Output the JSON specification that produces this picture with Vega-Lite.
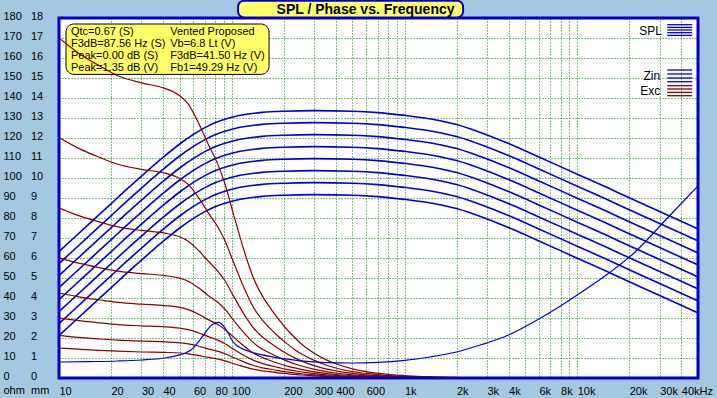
{
  "$schema": "https://vega.github.io/schema/vega-lite/v6.json",
  "width": 639,
  "height": 360,
  "autosize": {"type": "none"},
  "padding": {"left": 59, "top": 18, "right": 19, "bottom": 20},
  "background": "#a4c8e0",
  "config": {
    "view": {"fill": "#ffffff", "stroke": null},
    "font": "Liberation Sans",
    "axis": {"labelFont": "Liberation Sans", "labelFontSize": 11, "labelColor": "#000000", "domain": false, "ticks": false, "tickSize": 0, "labelOverlap": false, "labelFlush": false, "labelBound": false, "gridColor": "#008000", "gridDash": [1, 2], "gridWidth": 1, "gridOpacity": 1}
  },
  "datasets": {
    "infobox": [{"f": 10.98, "f2": 164.4, "v": 177, "v2": 151.8}],
    "frame": [{"f": 10, "f2": 50000, "v": 0, "v2": 180}],
    "titlebox": [{"f": 108.8, "f2": 2184, "v": 188.6, "v2": 180.3}],
    "titletext": [{"f": 595, "v": 184.2, "t": "SPL / Phase vs. Frequency"}],
    "info": [
      {"f": 11.73, "v": 173, "t": "Qtc=0.67 (S)"},
      {"f": 11.73, "v": 166.95, "t": "F3dB=87.56 Hz (S)"},
      {"f": 11.73, "v": 160.9, "t": "Peak=0.00 dB (S)"},
      {"f": 11.73, "v": 154.85, "t": "Peak=1.35 dB (V)"},
      {"f": 44.05, "v": 173, "t": "Vented Proposed"},
      {"f": 44.05, "v": 166.95, "t": "Vb=6.8 Lt (V)"},
      {"f": 44.05, "v": 160.9, "t": "F3dB=41.50 Hz (V)"},
      {"f": 44.05, "v": 154.85, "t": "Fb1=49.29 Hz (V)"}
    ],
    "legtext": [
      {"f": 30900, "v": 173.3, "t": "SPL"},
      {"f": 30200, "v": 150.8, "t": "Zin"},
      {"f": 30200, "v": 143.5, "t": "Exc"}
    ],
    "leglines": [
      {"f": 33170, "f2": 46290, "v": 176.65, "c": "b"},
      {"f": 33170, "f2": 46290, "v": 175.3, "c": "b"},
      {"f": 33170, "f2": 46290, "v": 174, "c": "b"},
      {"f": 33170, "f2": 46290, "v": 172.65, "c": "b"},
      {"f": 33170, "f2": 46290, "v": 171.3, "c": "b"},
      {"f": 33170, "f2": 46290, "v": 154, "c": "b"},
      {"f": 33170, "f2": 46290, "v": 152, "c": "b"},
      {"f": 33170, "f2": 46290, "v": 150, "c": "b"},
      {"f": 33170, "f2": 46290, "v": 148.15, "c": "b"},
      {"f": 33170, "f2": 46290, "v": 146.15, "c": "r"},
      {"f": 33170, "f2": 46290, "v": 144.5, "c": "r"},
      {"f": 33170, "f2": 46290, "v": 142.8, "c": "r"},
      {"f": 33170, "f2": 46290, "v": 141.15, "c": "r"}
    ],
    "xmax": [{"v": 89.5}],
    "zin": [
      {"f": 10, "v": 8.0}, {"f": 15, "v": 8.2}, {"f": 22, "v": 8.5}, {"f": 30, "v": 9.0}, {"f": 41, "v": 10.0}, {"f": 48, "v": 11.2}, {"f": 54, "v": 12.5}, {"f": 58, "v": 14}, {"f": 61, "v": 15.8}, {"f": 66, "v": 19.5}, {"f": 70, "v": 22.5}, {"f": 74, "v": 25.2}, {"f": 78, "v": 27}, {"f": 84, "v": 27.8}, {"f": 90, "v": 25.8}, {"f": 96, "v": 22}, {"f": 102, "v": 18}, {"f": 108, "v": 16}, {"f": 114, "v": 14.8}, {"f": 125, "v": 13.4}, {"f": 136, "v": 12.4}, {"f": 171, "v": 10.6}, {"f": 212, "v": 9.4}, {"f": 260, "v": 8.4}, {"f": 350, "v": 7.7}, {"f": 500, "v": 7.5}, {"f": 700, "v": 7.8}, {"f": 1000, "v": 8.8}, {"f": 1400, "v": 10.5}, {"f": 2000, "v": 13}, {"f": 2770, "v": 16.6}, {"f": 4000, "v": 21.5}, {"f": 6000, "v": 29.5}, {"f": 8000, "v": 36}, {"f": 10000, "v": 41.5}, {"f": 15000, "v": 52}, {"f": 21300, "v": 62.5}, {"f": 33300, "v": 80}, {"f": 50000, "v": 96}
    ],
    "spl": [
      {"c":0,"f":10,"v":63.2},{"c":0,"f":12,"v":69.5},{"c":0,"f":15,"v":77.2},{"c":0,"f":20,"v":87.1},{"c":0,"f":25,"v":94.8},{"c":0,"f":30,"v":100.9},{"c":0,"f":40,"v":110.3},{"c":0,"f":50,"v":117},{"c":0,"f":60,"v":121.8},{"c":0,"f":70,"v":125.2},{"c":0,"f":80,"v":127.6},{"c":0,"f":100,"v":130.4},{"c":0,"f":125,"v":132},{"c":0,"f":150,"v":132.8},{"c":0,"f":200,"v":133.4},{"c":0,"f":300,"v":133.7},{"c":0,"f":500,"v":133.4},{"c":0,"f":700,"v":132.7},{"c":0,"f":1000,"v":131.3},{"c":0,"f":1500,"v":129.1},{"c":0,"f":2000,"v":126.7},{"c":0,"f":3000,"v":121.5},{"c":0,"f":4000,"v":117.2},{"c":0,"f":6000,"v":110.5},{"c":0,"f":10000,"v":101.9},{"c":0,"f":15000,"v":95.1},{"c":0,"f":20000,"v":90.1},{"c":0,"f":30000,"v":83.2},{"c":0,"f":50000,"v":74.5},
      {"c":1,"f":10,"v":57.2},{"c":1,"f":12,"v":63.5},{"c":1,"f":15,"v":71.2},{"c":1,"f":20,"v":81.1},{"c":1,"f":25,"v":88.8},{"c":1,"f":30,"v":94.9},{"c":1,"f":40,"v":104.3},{"c":1,"f":50,"v":111},{"c":1,"f":60,"v":115.8},{"c":1,"f":70,"v":119.2},{"c":1,"f":80,"v":121.6},{"c":1,"f":100,"v":124.4},{"c":1,"f":125,"v":126},{"c":1,"f":150,"v":126.8},{"c":1,"f":200,"v":127.4},{"c":1,"f":300,"v":127.7},{"c":1,"f":500,"v":127.4},{"c":1,"f":700,"v":126.7},{"c":1,"f":1000,"v":125.3},{"c":1,"f":1500,"v":123.1},{"c":1,"f":2000,"v":120.7},{"c":1,"f":3000,"v":115.5},{"c":1,"f":4000,"v":111.2},{"c":1,"f":6000,"v":104.5},{"c":1,"f":10000,"v":95.9},{"c":1,"f":15000,"v":89.1},{"c":1,"f":20000,"v":84.1},{"c":1,"f":30000,"v":77.2},{"c":1,"f":50000,"v":68.5},
      {"c":2,"f":10,"v":51.2},{"c":2,"f":12,"v":57.5},{"c":2,"f":15,"v":65.2},{"c":2,"f":20,"v":75.1},{"c":2,"f":25,"v":82.8},{"c":2,"f":30,"v":88.9},{"c":2,"f":40,"v":98.3},{"c":2,"f":50,"v":105},{"c":2,"f":60,"v":109.8},{"c":2,"f":70,"v":113.2},{"c":2,"f":80,"v":115.6},{"c":2,"f":100,"v":118.4},{"c":2,"f":125,"v":120},{"c":2,"f":150,"v":120.8},{"c":2,"f":200,"v":121.4},{"c":2,"f":300,"v":121.7},{"c":2,"f":500,"v":121.4},{"c":2,"f":700,"v":120.7},{"c":2,"f":1000,"v":119.3},{"c":2,"f":1500,"v":117.1},{"c":2,"f":2000,"v":114.7},{"c":2,"f":3000,"v":109.5},{"c":2,"f":4000,"v":105.2},{"c":2,"f":6000,"v":98.5},{"c":2,"f":10000,"v":89.9},{"c":2,"f":15000,"v":83.1},{"c":2,"f":20000,"v":78.1},{"c":2,"f":30000,"v":71.2},{"c":2,"f":50000,"v":62.5},
      {"c":3,"f":10,"v":45.2},{"c":3,"f":12,"v":51.5},{"c":3,"f":15,"v":59.2},{"c":3,"f":20,"v":69.1},{"c":3,"f":25,"v":76.8},{"c":3,"f":30,"v":82.9},{"c":3,"f":40,"v":92.3},{"c":3,"f":50,"v":99},{"c":3,"f":60,"v":103.8},{"c":3,"f":70,"v":107.2},{"c":3,"f":80,"v":109.6},{"c":3,"f":100,"v":112.4},{"c":3,"f":125,"v":114},{"c":3,"f":150,"v":114.8},{"c":3,"f":200,"v":115.4},{"c":3,"f":300,"v":115.7},{"c":3,"f":500,"v":115.4},{"c":3,"f":700,"v":114.7},{"c":3,"f":1000,"v":113.3},{"c":3,"f":1500,"v":111.1},{"c":3,"f":2000,"v":108.7},{"c":3,"f":3000,"v":103.5},{"c":3,"f":4000,"v":99.2},{"c":3,"f":6000,"v":92.5},{"c":3,"f":10000,"v":83.9},{"c":3,"f":15000,"v":77.1},{"c":3,"f":20000,"v":72.1},{"c":3,"f":30000,"v":65.2},{"c":3,"f":50000,"v":56.5},
      {"c":4,"f":10,"v":39.2},{"c":4,"f":12,"v":45.5},{"c":4,"f":15,"v":53.2},{"c":4,"f":20,"v":63.1},{"c":4,"f":25,"v":70.8},{"c":4,"f":30,"v":76.9},{"c":4,"f":40,"v":86.3},{"c":4,"f":50,"v":93},{"c":4,"f":60,"v":97.8},{"c":4,"f":70,"v":101.2},{"c":4,"f":80,"v":103.6},{"c":4,"f":100,"v":106.4},{"c":4,"f":125,"v":108},{"c":4,"f":150,"v":108.8},{"c":4,"f":200,"v":109.4},{"c":4,"f":300,"v":109.7},{"c":4,"f":500,"v":109.4},{"c":4,"f":700,"v":108.7},{"c":4,"f":1000,"v":107.3},{"c":4,"f":1500,"v":105.1},{"c":4,"f":2000,"v":102.7},{"c":4,"f":3000,"v":97.5},{"c":4,"f":4000,"v":93.2},{"c":4,"f":6000,"v":86.5},{"c":4,"f":10000,"v":77.9},{"c":4,"f":15000,"v":71.1},{"c":4,"f":20000,"v":66.1},{"c":4,"f":30000,"v":59.2},{"c":4,"f":50000,"v":50.5},
      {"c":5,"f":10,"v":33.2},{"c":5,"f":12,"v":39.5},{"c":5,"f":15,"v":47.2},{"c":5,"f":20,"v":57.1},{"c":5,"f":25,"v":64.8},{"c":5,"f":30,"v":70.9},{"c":5,"f":40,"v":80.3},{"c":5,"f":50,"v":87},{"c":5,"f":60,"v":91.8},{"c":5,"f":70,"v":95.2},{"c":5,"f":80,"v":97.6},{"c":5,"f":100,"v":100.4},{"c":5,"f":125,"v":102},{"c":5,"f":150,"v":102.8},{"c":5,"f":200,"v":103.4},{"c":5,"f":300,"v":103.7},{"c":5,"f":500,"v":103.4},{"c":5,"f":700,"v":102.7},{"c":5,"f":1000,"v":101.3},{"c":5,"f":1500,"v":99.1},{"c":5,"f":2000,"v":96.7},{"c":5,"f":3000,"v":91.5},{"c":5,"f":4000,"v":87.2},{"c":5,"f":6000,"v":80.5},{"c":5,"f":10000,"v":71.9},{"c":5,"f":15000,"v":65.1},{"c":5,"f":20000,"v":60.1},{"c":5,"f":30000,"v":53.2},{"c":5,"f":50000,"v":44.5},
      {"c":6,"f":10,"v":27.2},{"c":6,"f":12,"v":33.5},{"c":6,"f":15,"v":41.2},{"c":6,"f":20,"v":51.1},{"c":6,"f":25,"v":58.8},{"c":6,"f":30,"v":64.9},{"c":6,"f":40,"v":74.3},{"c":6,"f":50,"v":81},{"c":6,"f":60,"v":85.8},{"c":6,"f":70,"v":89.2},{"c":6,"f":80,"v":91.6},{"c":6,"f":100,"v":94.4},{"c":6,"f":125,"v":96},{"c":6,"f":150,"v":96.8},{"c":6,"f":200,"v":97.4},{"c":6,"f":300,"v":97.7},{"c":6,"f":500,"v":97.4},{"c":6,"f":700,"v":96.7},{"c":6,"f":1000,"v":95.3},{"c":6,"f":1500,"v":93.1},{"c":6,"f":2000,"v":90.7},{"c":6,"f":3000,"v":85.5},{"c":6,"f":4000,"v":81.2},{"c":6,"f":6000,"v":74.5},{"c":6,"f":10000,"v":65.9},{"c":6,"f":15000,"v":59.1},{"c":6,"f":20000,"v":54.1},{"c":6,"f":30000,"v":47.2},{"c":6,"f":50000,"v":38.5},
      {"c":7,"f":10,"v":21.2},{"c":7,"f":12,"v":27.5},{"c":7,"f":15,"v":35.2},{"c":7,"f":20,"v":45.1},{"c":7,"f":25,"v":52.8},{"c":7,"f":30,"v":58.9},{"c":7,"f":40,"v":68.3},{"c":7,"f":50,"v":75},{"c":7,"f":60,"v":79.8},{"c":7,"f":70,"v":83.2},{"c":7,"f":80,"v":85.6},{"c":7,"f":100,"v":88.4},{"c":7,"f":125,"v":90},{"c":7,"f":150,"v":90.8},{"c":7,"f":200,"v":91.4},{"c":7,"f":300,"v":91.7},{"c":7,"f":500,"v":91.4},{"c":7,"f":700,"v":90.7},{"c":7,"f":1000,"v":89.3},{"c":7,"f":1500,"v":87.1},{"c":7,"f":2000,"v":84.7},{"c":7,"f":3000,"v":79.5},{"c":7,"f":4000,"v":75.2},{"c":7,"f":6000,"v":68.5},{"c":7,"f":10000,"v":59.9},{"c":7,"f":15000,"v":53.1},{"c":7,"f":20000,"v":48.1},{"c":7,"f":30000,"v":41.2},{"c":7,"f":50000,"v":32.5}
    ],
    "exc": [
      {"c":"A","f":10,"v":170},{"c":"A","f":13,"v":162.4},{"c":"A","f":17.3,"v":155.9},{"c":"A","f":21.9,"v":151.1},{"c":"A","f":30,"v":147.6},{"c":"A","f":41,"v":144.8},{"c":"A","f":50,"v":141.1},{"c":"A","f":56,"v":136.9},{"c":"A","f":64,"v":127.8},{"c":"A","f":73,"v":117},{"c":"A","f":83.6,"v":106.3},{"c":"A","f":91.5,"v":96.9},{"c":"A","f":100,"v":85},{"c":"A","f":110,"v":72.4},{"c":"A","f":120,"v":61.5},{"c":"A","f":135,"v":49},{"c":"A","f":150,"v":41.2},{"c":"A","f":165,"v":35.7},{"c":"A","f":185,"v":29.8},{"c":"A","f":205,"v":25},{"c":"A","f":235,"v":19.6},{"c":"A","f":265,"v":15.6},{"c":"A","f":300,"v":12.4},{"c":"A","f":350,"v":9.2},{"c":"A","f":400,"v":7.1},{"c":"A","f":500,"v":4.6},{"c":"A","f":600,"v":3.2},{"c":"A","f":700,"v":2.4},{"c":"A","f":850,"v":1.6},{"c":"A","f":1000,"v":1.2},{"c":"A","f":1400,"v":0.6},{"c":"A","f":2000,"v":0.3},
      {"c":"B","f":10,"v":120.2},{"c":"B","f":13,"v":114.8},{"c":"B","f":17.3,"v":110.2},{"c":"B","f":21.9,"v":106.9},{"c":"B","f":30,"v":104.3},{"c":"B","f":41,"v":102.4},{"c":"B","f":50,"v":99.8},{"c":"B","f":56,"v":96.8},{"c":"B","f":64,"v":90.4},{"c":"B","f":73,"v":82.7},{"c":"B","f":83.6,"v":75.1},{"c":"B","f":91.5,"v":68.5},{"c":"B","f":100,"v":60.1},{"c":"B","f":110,"v":51.2},{"c":"B","f":120,"v":43.5},{"c":"B","f":135,"v":34.6},{"c":"B","f":150,"v":29.1},{"c":"B","f":165,"v":25.2},{"c":"B","f":185,"v":21},{"c":"B","f":205,"v":17.7},{"c":"B","f":235,"v":13.8},{"c":"B","f":265,"v":11.1},{"c":"B","f":300,"v":8.8},{"c":"B","f":350,"v":6.5},{"c":"B","f":400,"v":5},{"c":"B","f":500,"v":3.2},{"c":"B","f":600,"v":2.3},{"c":"B","f":700,"v":1.7},{"c":"B","f":850,"v":1.1},{"c":"B","f":1000,"v":0.8},{"c":"B","f":1400,"v":0.4},{"c":"B","f":2000,"v":0.2},
      {"c":"C","f":10,"v":85},{"c":"C","f":13,"v":81.2},{"c":"C","f":17.3,"v":77.9},{"c":"C","f":21.9,"v":75.6},{"c":"C","f":30,"v":73.8},{"c":"C","f":41,"v":72.4},{"c":"C","f":50,"v":70.6},{"c":"C","f":56,"v":68.4},{"c":"C","f":64,"v":63.9},{"c":"C","f":73,"v":58.5},{"c":"C","f":83.6,"v":53.1},{"c":"C","f":91.5,"v":48.5},{"c":"C","f":100,"v":42.5},{"c":"C","f":110,"v":36.2},{"c":"C","f":120,"v":30.8},{"c":"C","f":135,"v":24.5},{"c":"C","f":150,"v":20.6},{"c":"C","f":165,"v":17.85},{"c":"C","f":185,"v":14.9},{"c":"C","f":205,"v":12.5},{"c":"C","f":235,"v":9.8},{"c":"C","f":265,"v":7.8},{"c":"C","f":300,"v":6.2},{"c":"C","f":350,"v":4.6},{"c":"C","f":400,"v":3.6},{"c":"C","f":500,"v":2.3},{"c":"C","f":600,"v":1.6},{"c":"C","f":700,"v":1.2},{"c":"C","f":850,"v":0.8},{"c":"C","f":1000,"v":0.6},{"c":"C","f":1400,"v":0.3},{"c":"C","f":2000,"v":0.1},
      {"c":"D","f":10,"v":60.1},{"c":"D","f":13,"v":57.4},{"c":"D","f":17.3,"v":55.1},{"c":"D","f":21.9,"v":53.4},{"c":"D","f":30,"v":52.2},{"c":"D","f":41,"v":51.2},{"c":"D","f":50,"v":49.9},{"c":"D","f":56,"v":48.4},{"c":"D","f":64,"v":45.2},{"c":"D","f":73,"v":41.3},{"c":"D","f":83.6,"v":37.6},{"c":"D","f":91.5,"v":34.3},{"c":"D","f":100,"v":30.1},{"c":"D","f":110,"v":25.6},{"c":"D","f":120,"v":21.8},{"c":"D","f":135,"v":17.3},{"c":"D","f":150,"v":14.5},{"c":"D","f":165,"v":12.6},{"c":"D","f":185,"v":10.5},{"c":"D","f":205,"v":8.8},{"c":"D","f":235,"v":6.9},{"c":"D","f":265,"v":5.5},{"c":"D","f":300,"v":4.4},{"c":"D","f":350,"v":3.2},{"c":"D","f":400,"v":2.5},{"c":"D","f":500,"v":1.6},{"c":"D","f":600,"v":1.1},{"c":"D","f":700,"v":0.8},{"c":"D","f":850,"v":0.6},{"c":"D","f":1000,"v":0.4},{"c":"D","f":1400,"v":0.2},{"c":"D","f":2000,"v":0.1},
      {"c":"E","f":10,"v":42.5},{"c":"E","f":13,"v":40.6},{"c":"E","f":17.3,"v":39},{"c":"E","f":21.9,"v":37.8},{"c":"E","f":30,"v":36.9},{"c":"E","f":41,"v":36.2},{"c":"E","f":50,"v":35.3},{"c":"E","f":56,"v":34.2},{"c":"E","f":64,"v":32},{"c":"E","f":73,"v":29.2},{"c":"E","f":83.6,"v":26.6},{"c":"E","f":91.5,"v":24.2},{"c":"E","f":100,"v":21.3},{"c":"E","f":110,"v":18.1},{"c":"E","f":120,"v":15.4},{"c":"E","f":135,"v":12.2},{"c":"E","f":150,"v":10.3},{"c":"E","f":165,"v":8.9},{"c":"E","f":185,"v":7.4},{"c":"E","f":205,"v":6.2},{"c":"E","f":235,"v":4.9},{"c":"E","f":265,"v":3.9},{"c":"E","f":300,"v":3.1},{"c":"E","f":350,"v":2.3},{"c":"E","f":400,"v":1.8},{"c":"E","f":500,"v":1.1},{"c":"E","f":600,"v":0.8},{"c":"E","f":700,"v":0.6},{"c":"E","f":850,"v":0.4},{"c":"E","f":1000,"v":0.3},{"c":"E","f":1400,"v":0.1},{"c":"E","f":2000,"v":0.1},
      {"c":"F","f":10,"v":30.1},{"c":"F","f":13,"v":28.7},{"c":"F","f":17.3,"v":27.6},{"c":"F","f":21.9,"v":26.7},{"c":"F","f":30,"v":26.1},{"c":"F","f":41,"v":25.6},{"c":"F","f":50,"v":24.9},{"c":"F","f":56,"v":24.2},{"c":"F","f":64,"v":22.6},{"c":"F","f":73,"v":20.7},{"c":"F","f":83.6,"v":18.8},{"c":"F","f":91.5,"v":17.1},{"c":"F","f":100,"v":15},{"c":"F","f":110,"v":12.8},{"c":"F","f":120,"v":10.9},{"c":"F","f":135,"v":8.7},{"c":"F","f":150,"v":7.3},{"c":"F","f":165,"v":6.3},{"c":"F","f":185,"v":5.3},{"c":"F","f":205,"v":4.4},{"c":"F","f":235,"v":3.5},{"c":"F","f":265,"v":2.8},{"c":"F","f":300,"v":2.2},{"c":"F","f":350,"v":1.6},{"c":"F","f":400,"v":1.3},{"c":"F","f":500,"v":0.8},{"c":"F","f":600,"v":0.6},{"c":"F","f":700,"v":0.4},{"c":"F","f":850,"v":0.3},{"c":"F","f":1000,"v":0.2},{"c":"F","f":1400,"v":0.1},{"c":"F","f":2000,"v":0},
      {"c":"G","f":10,"v":21.3},{"c":"G","f":13,"v":20.3},{"c":"G","f":17.3,"v":19.5},{"c":"G","f":21.9,"v":18.9},{"c":"G","f":30,"v":18.4},{"c":"G","f":41,"v":18.1},{"c":"G","f":50,"v":17.6},{"c":"G","f":56,"v":17.1},{"c":"G","f":64,"v":16},{"c":"G","f":73,"v":14.6},{"c":"G","f":83.6,"v":13.3},{"c":"G","f":91.5,"v":12.1},{"c":"G","f":100,"v":10.6},{"c":"G","f":110,"v":9.1},{"c":"G","f":120,"v":7.7},{"c":"G","f":135,"v":6.1},{"c":"G","f":150,"v":5.1},{"c":"G","f":165,"v":4.5},{"c":"G","f":185,"v":3.7},{"c":"G","f":205,"v":3.1},{"c":"G","f":235,"v":2.4},{"c":"G","f":265,"v":2},{"c":"G","f":300,"v":1.6},{"c":"G","f":350,"v":1.1},{"c":"G","f":400,"v":0.9},{"c":"G","f":500,"v":0.6},{"c":"G","f":600,"v":0.4},{"c":"G","f":700,"v":0.3},{"c":"G","f":850,"v":0.2},{"c":"G","f":1000,"v":0.1},{"c":"G","f":1400,"v":0.1},{"c":"G","f":2000,"v":0},
      {"c":"H","f":10,"v":15},{"c":"H","f":13,"v":14.4},{"c":"H","f":17.3,"v":13.8},{"c":"H","f":21.9,"v":13.4},{"c":"H","f":30,"v":13},{"c":"H","f":41,"v":12.8},{"c":"H","f":50,"v":12.5},{"c":"H","f":56,"v":12.1},{"c":"H","f":64,"v":11.3},{"c":"H","f":73,"v":10.3},{"c":"H","f":83.6,"v":9.4},{"c":"H","f":91.5,"v":8.6},{"c":"H","f":100,"v":7.5},{"c":"H","f":110,"v":6.4},{"c":"H","f":120,"v":5.4},{"c":"H","f":135,"v":4.3},{"c":"H","f":150,"v":3.6},{"c":"H","f":165,"v":3.2},{"c":"H","f":185,"v":2.6},{"c":"H","f":205,"v":2.2},{"c":"H","f":235,"v":1.7},{"c":"H","f":265,"v":1.4},{"c":"H","f":300,"v":1.1},{"c":"H","f":350,"v":0.8},{"c":"H","f":400,"v":0.6},{"c":"H","f":500,"v":0.4},{"c":"H","f":600,"v":0.3},{"c":"H","f":700,"v":0.2},{"c":"H","f":850,"v":0.1},{"c":"H","f":1000,"v":0.1},{"c":"H","f":1400,"v":0.1},{"c":"H","f":2000,"v":0}
    ]
  },
  "encoding": {
    "x": {
      "field": "f",
      "type": "quantitative",
      "scale": {"type": "log", "domain": [10, 50000], "nice": false},
      "axis": {
        "title": null,
        "grid": true,
        "values": [10, 20, 30, 40, 50, 60, 70, 80, 90, 100, 200, 300, 400, 500, 600, 700, 800, 900, 1000, 2000, 3000, 4000, 5000, 6000, 7000, 8000, 9000, 10000, 20000, 30000, 40000],
        "labelAlign": "left",
        "labelBaseline": "top",
        "labelPadding": 7,
        "labelExpr": "datum.value == 40000 ? '40kHz' : (indexof([10,20,30,40,60,80,100,200,300,400,600], datum.value) >= 0 ? '' + datum.value : (indexof([1000,2000,3000,4000,6000,8000,10000,20000,30000], datum.value) >= 0 ? (datum.value / 1000) + 'k' : ''))"
      }
    }
  },
  "layer": [
    {
      "data": {"name": "infobox"},
      "mark": {"type": "rect", "fill": "#ffff66", "stroke": "#000000", "strokeWidth": 1, "cornerRadius": 8},
      "encoding": {
        "x2": {"field": "f2"},
        "y": {
          "field": "v", "type": "quantitative",
          "scale": {"domain": [0, 180], "nice": false},
          "axis": {"orient": "left", "title": "ohm", "grid": true, "values": [0, 10, 20, 30, 40, 50, 60, 70, 80, 90, 100, 110, 120, 130, 140, 150, 160, 170, 180], "labelAlign": "left", "labelBaseline": "middle", "labelPadding": 56, "labelOffset": -2, "titleAngle": 0, "titleAlign": "left", "titleBaseline": "alphabetic", "titleX": -56, "titleY": 375.5, "titleFontSize": 11, "titleFontWeight": "normal", "titleColor": "#000000", "titleFont": "Liberation Sans"}
        },
        "y2": {"field": "v2"}
      }
    },
    {
      "data": {"name": "info"},
      "mark": {"type": "text", "align": "left", "baseline": "middle", "fontSize": 11, "color": "#000000"},
      "encoding": {
        "y": {"field": "v", "type": "quantitative", "axis": {"orient": "left", "title": "mm", "grid": false, "values": [0, 10, 20, 30, 40, 50, 60, 70, 80, 90, 100, 110, 120, 130, 140, 150, 160, 170, 180], "labelExpr": "'' + (datum.value / 10)", "labelAlign": "left", "labelBaseline": "middle", "labelPadding": 28.5, "labelOffset": -2, "titleAngle": 0, "titleAlign": "left", "titleBaseline": "alphabetic", "titleX": -28.5, "titleY": 375.5, "titleFontSize": 11, "titleFontWeight": "normal", "titleColor": "#000000", "titleFont": "Liberation Sans"}},
        "text": {"field": "t"}
      }
    },
    {
      "data": {"name": "spl"},
      "mark": {"type": "line", "color": "#0000d8", "strokeWidth": 1.6, "interpolate": "monotone", "clip": true},
      "encoding": {
        "y": {"field": "v", "type": "quantitative", "axis": null},
        "detail": {"field": "c"}
      }
    },
    {
      "data": {"name": "exc"},
      "mark": {"type": "line", "color": "#880000", "strokeWidth": 1.2, "interpolate": "monotone", "clip": true},
      "encoding": {
        "y": {"field": "v", "type": "quantitative", "axis": null},
        "detail": {"field": "c"}
      }
    },
    {
      "data": {"name": "xmax"},
      "mark": {"type": "rule", "color": "#aa0000", "strokeWidth": 1.6},
      "encoding": {
        "y": {"field": "v", "type": "quantitative", "axis": null}
      }
    },
    {
      "data": {"name": "zin"},
      "mark": {"type": "line", "color": "#0000d8", "strokeWidth": 1.2, "interpolate": "monotone", "clip": true},
      "encoding": {
        "y": {"field": "v", "type": "quantitative", "axis": null}
      }
    },
    {
      "data": {"name": "frame"},
      "mark": {"type": "rect", "filled": false, "stroke": "#0000cc", "strokeWidth": 3},
      "encoding": {
        "x2": {"field": "f2"},
        "y": {"field": "v", "type": "quantitative", "axis": null},
        "y2": {"field": "v2"}
      }
    },
    {
      "data": {"name": "leglines"},
      "mark": {"type": "rule", "strokeWidth": 1.3},
      "encoding": {
        "x2": {"field": "f2"},
        "y": {"field": "v", "type": "quantitative", "axis": null},
        "color": {"field": "c", "type": "nominal", "scale": {"domain": ["b", "r"], "range": ["#0000d8", "#880000"]}, "legend": null}
      }
    },
    {
      "data": {"name": "legtext"},
      "mark": {"type": "text", "align": "right", "baseline": "middle", "fontSize": 12, "color": "#000000"},
      "encoding": {
        "y": {"field": "v", "type": "quantitative", "axis": null},
        "text": {"field": "t"}
      }
    },
    {
      "data": {"name": "titlebox"},
      "mark": {"type": "rect", "fill": "#ffff66", "stroke": "#0000cc", "strokeWidth": 2, "cornerRadius": 6},
      "encoding": {
        "x2": {"field": "f2"},
        "y": {"field": "v", "type": "quantitative", "axis": null},
        "y2": {"field": "v2"}
      }
    },
    {
      "data": {"name": "titletext"},
      "mark": {"type": "text", "align": "center", "baseline": "middle", "fontSize": 14, "fontWeight": "bold", "color": "#000000"},
      "encoding": {
        "y": {"field": "v", "type": "quantitative", "axis": null},
        "text": {"field": "t"}
      }
    }
  ],
  "resolve": {"axis": {"y": "independent"}}
}
